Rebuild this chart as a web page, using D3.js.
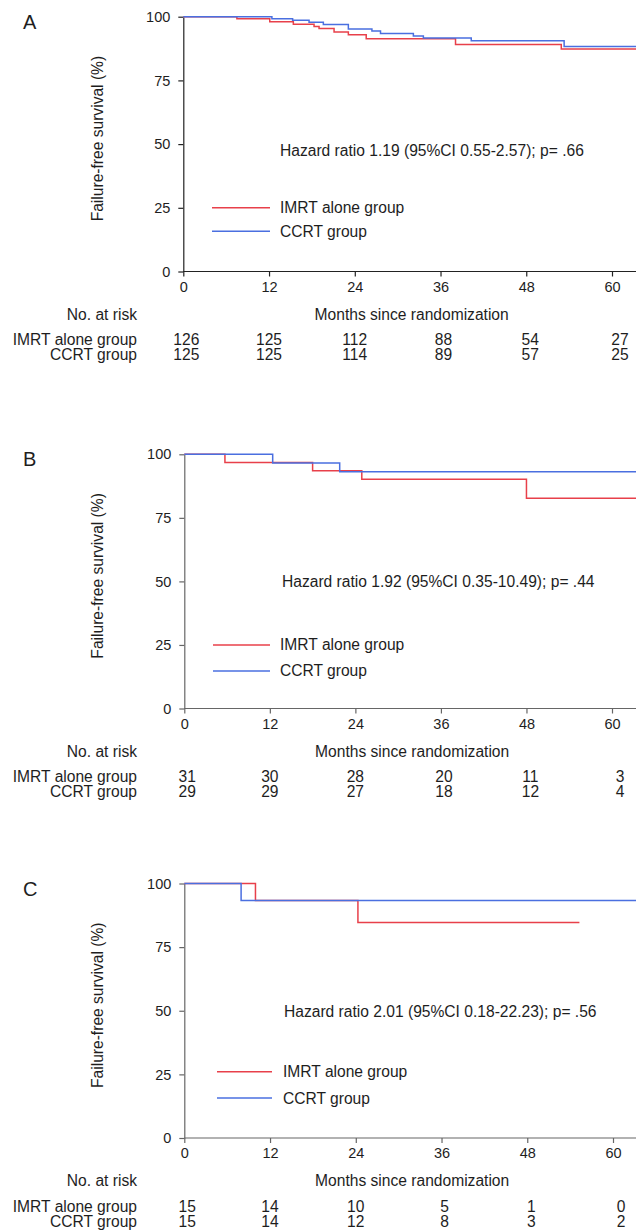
<!DOCTYPE html>
<html>
<head>
<meta charset="utf-8">
<script src="https://cdn.jsdelivr.net/npm/d3@7"></script>
<style>
  html, body { margin: 0; padding: 0; background: #fff; }
  svg { display: block; font-family: "Liberation Sans", Arial, sans-serif; }
</style>
</head>
<body>
<svg id="chart" width="636" height="1232"></svg>
<script>
// ---------- data ----------
const panelLabels = ["A", "B", "C"];
const monthTicks = [0, 12, 24, 36, 48, 60];
const survTicks = [0, 25, 50, 75, 100];
const groupNames = ["IMRT alone group", "CCRT group"];
const yAxisTitle = "Failure-free survival (%)";
const xAxisTitle = "Months since randomization";
const riskTitle = "No. at risk";
const hazardLabels = [
  "Hazard ratio 1.19 (95%CI 0.55-2.57); p= .66",
  "Hazard ratio 1.92 (95%CI 0.35-10.49); p= .44",
  "Hazard ratio 2.01 (95%CI 0.18-22.23); p= .56"
];

// Panel A
const imrtTimesA = [0, 7.5, 12.1, 15.4, 18.3, 19.0, 21.1, 23.1, 25.6, 38.1, 52.9, 63.4];
const imrtSurvA  = [100, 99.2, 98.0, 97.0, 96.2, 95.4, 94.0, 92.9, 91.3, 89.1, 87.3, 87.3];
const ccrtTimesA = [0, 12.4, 15.3, 17.6, 19.6, 23.1, 26.4, 27.6, 32.2, 33.6, 40.3, 53.3, 63.4];
const ccrtSurvA  = [100, 99.2, 98.6, 97.8, 96.9, 95.2, 94.4, 93.4, 92.4, 91.6, 90.6, 88.3, 88.3];
const riskImrtA = [126, 125, 112, 88, 54, 27];
const riskCcrtA = [125, 125, 114, 89, 57, 25];

// Panel B
const imrtTimesB = [0, 5.7, 18.0, 24.9, 48.0, 63.4];
const imrtSurvB  = [100, 96.8, 93.5, 90.2, 82.7, 82.7];
const ccrtTimesB = [0, 12.4, 21.8, 63.4];
const ccrtSurvB  = [100, 96.6, 93.1, 93.1];
const riskImrtB = [31, 30, 28, 20, 11, 3];
const riskCcrtB = [29, 29, 27, 18, 12, 4];

// Panel C
const imrtTimesC = [0, 9.96, 24.3, 55.3];
const imrtSurvC  = [100, 93.3, 84.7, 84.7];
const ccrtTimesC = [0, 7.95, 63.4];
const ccrtSurvC  = [100, 93.3, 93.3];
const riskImrtC = [15, 14, 10, 5, 1, 0];
const riskCcrtC = [15, 14, 12, 8, 3, 2];

// annotation positions in data units (survival %)
const hazardY = [47.6, 50.1, 49.5];
const legendY = [[25, 15.8], [25, 14.8], [26, 15.7]];

// ---------- layout ----------
const colors = { imrt: "#e8404a", ccrt: "#4a6fe0", text: "#1e1e1e" };
const layout = [
  { top: 16.7, bottom: 271.5, left: 183.3, x60: 612, axis: "#222", hx: 280, lx1: 212, lx2: 270, tx: 280 },
  { top: 454.3, bottom: 708.5, left: 184.3, x60: 612, axis: "#666", hx: 282, lx1: 213, lx2: 270, tx: 280 },
  { top: 883.5, bottom: 1138, left: 184.3, x60: 613, axis: "#666", hx: 284, lx1: 217, lx2: 272, tx: 283 }
];
const colOffset = [3, 0, 0, 3, 4, 8];
const xMax = 63.4;
const fs = "15.6px";

const panels = [
  { imrt: d3.zip(imrtTimesA, imrtSurvA), ccrt: d3.zip(ccrtTimesA, ccrtSurvA), rI: riskImrtA, rC: riskCcrtA },
  { imrt: d3.zip(imrtTimesB, imrtSurvB), ccrt: d3.zip(ccrtTimesB, ccrtSurvB), rI: riskImrtB, rC: riskCcrtB },
  { imrt: d3.zip(imrtTimesC, imrtSurvC), ccrt: d3.zip(ccrtTimesC, ccrtSurvC), rI: riskImrtC, rC: riskCcrtC }
];

const svg = d3.select("#chart");

panels.forEach((p, i) => {
  const L = layout[i];
  const x = d3.scaleLinear().domain([0, 60]).range([L.left, L.x60]);
  const y = d3.scaleLinear().domain([0, 100]).range([L.bottom, L.top]);
  const g = svg.append("g");

  // axes
  const yAx = g.append("g").attr("transform", `translate(${L.left},0)`)
    .call(d3.axisLeft(y).tickValues(survTicks).tickSize(5).tickPadding(8).tickSizeOuter(0));
  const xAx = g.append("g").attr("transform", `translate(0,${L.bottom})`)
    .call(d3.axisBottom(x).tickValues(monthTicks).tickSize(5).tickPadding(5).tickSizeOuter(0));
  xAx.select(".domain").attr("d", `M${L.left},0H${x(xMax)}`);
  [yAx, xAx].forEach(a => {
    a.selectAll(".domain, line").attr("stroke", L.axis).attr("stroke-width", 1.2);
    a.selectAll("text").attr("fill", colors.text).style("font-size", "14.5px")
      .style("font-family", '"Liberation Sans", Arial, sans-serif');
  });

  // curves
  const line = d3.line().x(d => x(d[0])).y(d => y(d[1])).curve(d3.curveStepAfter);
  g.append("path").datum(p.imrt).attr("d", line).attr("fill", "none")
    .attr("stroke", colors.imrt).attr("stroke-width", 1.5);
  g.append("path").datum(p.ccrt).attr("d", line).attr("fill", "none")
    .attr("stroke", colors.ccrt).attr("stroke-width", 1.5);

  // panel letter
  g.append("text").attr("x", 23).attr("y", L.top + 12).text(panelLabels[i])
    .attr("fill", colors.text).style("font-size", "20px");

  // y title
  const cy = (L.top + L.bottom) / 2 - 5.5;
  g.append("text").attr("transform", `translate(98,${cy}) rotate(-90)`)
    .attr("text-anchor", "middle").attr("dy", "0.35em").text(yAxisTitle)
    .attr("fill", colors.text).style("font-size", fs);

  // hazard text
  g.append("text").attr("x", L.hx).attr("y", y(hazardY[i])).attr("dy", "0.35em")
    .text(hazardLabels[i]).attr("fill", colors.text).style("font-size", fs);

  // legend
  const legColors = [colors.imrt, colors.ccrt];
  groupNames.forEach((name, k) => {
    const ly = y(legendY[i][k]);
    g.append("line").attr("x1", L.lx1).attr("x2", L.lx2).attr("y1", ly).attr("y2", ly)
      .attr("stroke", legColors[k]).attr("stroke-width", 1.5);
    g.append("text").attr("x", L.tx).attr("y", ly).attr("dy", "0.35em").text(name)
      .attr("fill", colors.text).style("font-size", fs);
  });

  // x title & risk table
  g.append("text").attr("x", (L.left + 636) / 2 + 2).attr("y", L.bottom + 48)
    .attr("text-anchor", "middle").text(xAxisTitle)
    .attr("fill", colors.text).style("font-size", fs);
  g.append("text").attr("x", 137).attr("y", L.bottom + 48).attr("text-anchor", "end")
    .text(riskTitle).attr("fill", colors.text).style("font-size", fs);
  const rows = [p.rI, p.rC];
  rows.forEach((vals, k) => {
    const by = L.bottom + 73.5 + k * 15;
    g.append("text").attr("x", 137).attr("y", by).attr("text-anchor", "end")
      .text(groupNames[k]).attr("fill", colors.text).style("font-size", fs);
    g.selectAll(null).data(vals).enter().append("text")
      .attr("x", (d, j) => x(monthTicks[j]) + colOffset[j]).attr("y", by)
      .attr("text-anchor", "middle").text(d => d)
      .attr("fill", colors.text).style("font-size", fs);
  });
});
</script>
</body>
</html>
